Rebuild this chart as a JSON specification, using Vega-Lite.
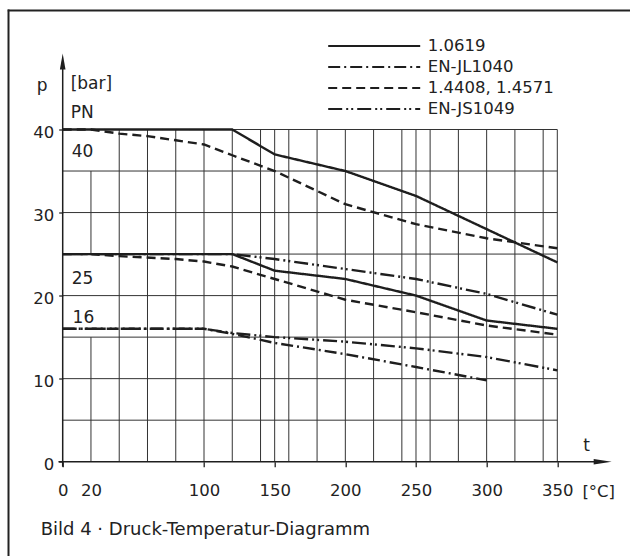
{
  "$schema": "https://vega.github.io/schema/vega-lite/v6.json",
  "width": 494.6,
  "height": 332.2,
  "autosize": {"type": "none"},
  "padding": {"left": 62.7, "top": 129.5, "right": 72.7, "bottom": 94.3},
  "background": "white",
  "config": {
    "view": {"stroke": null},
    "font": "DejaVu Sans",
    "axis": {"labelFont": "DejaVu Sans", "titleFont": "DejaVu Sans", "labelColor": "#222", "titleColor": "#222", "tickColor": "#222", "tickWidth": 1.3, "domain": false, "grid": false, "titleFontWeight": "normal"},
    "legend": {"padding": 0}
  },
  "datasets": {
    "hgrid": [{"p": 5}, {"p": 10}, {"p": 15}, {"p": 20}, {"p": 25}, {"p": 30}, {"p": 35}, {"p": 40}],
    "vgrid": [
      {"t": 20, "p": 0, "p2": 15}, {"t": 20, "p": 25, "p2": 35},
      {"t": 40, "p": 0, "p2": 40}, {"t": 60, "p": 0, "p2": 40}, {"t": 80, "p": 0, "p2": 40},
      {"t": 100, "p": 0, "p2": 40}, {"t": 120, "p": 0, "p2": 40}, {"t": 140, "p": 0, "p2": 40},
      {"t": 150, "p": 0, "p2": 40}, {"t": 160, "p": 0, "p2": 40}, {"t": 180, "p": 0, "p2": 40},
      {"t": 200, "p": 0, "p2": 40}, {"t": 220, "p": 0, "p2": 40}, {"t": 240, "p": 0, "p2": 40},
      {"t": 250, "p": 0, "p2": 40}, {"t": 260, "p": 0, "p2": 40}, {"t": 280, "p": 0, "p2": 40},
      {"t": 300, "p": 0, "p2": 40}, {"t": 320, "p": 0, "p2": 40}, {"t": 340, "p": 0, "p2": 40},
      {"t": 350, "p": 0, "p2": 40}
    ],
    "curves": [
      {"material": "1.0619", "pn": "PN40", "t": 0, "p": 40},
      {"material": "1.0619", "pn": "PN40", "t": 120, "p": 40},
      {"material": "1.0619", "pn": "PN40", "t": 150, "p": 37},
      {"material": "1.0619", "pn": "PN40", "t": 200, "p": 35},
      {"material": "1.0619", "pn": "PN40", "t": 250, "p": 32},
      {"material": "1.0619", "pn": "PN40", "t": 300, "p": 28},
      {"material": "1.0619", "pn": "PN40", "t": 350, "p": 24},
      {"material": "1.0619", "pn": "PN25", "t": 0, "p": 25},
      {"material": "1.0619", "pn": "PN25", "t": 120, "p": 25},
      {"material": "1.0619", "pn": "PN25", "t": 150, "p": 23},
      {"material": "1.0619", "pn": "PN25", "t": 200, "p": 22},
      {"material": "1.0619", "pn": "PN25", "t": 250, "p": 20},
      {"material": "1.0619", "pn": "PN25", "t": 300, "p": 17},
      {"material": "1.0619", "pn": "PN25", "t": 350, "p": 16},
      {"material": "EN-JL1040", "pn": "PN16", "t": 0, "p": 16},
      {"material": "EN-JL1040", "pn": "PN16", "t": 100, "p": 16},
      {"material": "EN-JL1040", "pn": "PN16", "t": 120, "p": 15.4},
      {"material": "EN-JL1040", "pn": "PN16", "t": 150, "p": 14.3},
      {"material": "EN-JL1040", "pn": "PN16", "t": 200, "p": 12.95},
      {"material": "EN-JL1040", "pn": "PN16", "t": 250, "p": 11.4},
      {"material": "EN-JL1040", "pn": "PN16", "t": 300, "p": 9.8},
      {"material": "1.4408, 1.4571", "pn": "PN40", "t": 0, "p": 40},
      {"material": "1.4408, 1.4571", "pn": "PN40", "t": 20, "p": 40},
      {"material": "1.4408, 1.4571", "pn": "PN40", "t": 40, "p": 39.5},
      {"material": "1.4408, 1.4571", "pn": "PN40", "t": 60, "p": 39.2},
      {"material": "1.4408, 1.4571", "pn": "PN40", "t": 80, "p": 38.7},
      {"material": "1.4408, 1.4571", "pn": "PN40", "t": 100, "p": 38.2},
      {"material": "1.4408, 1.4571", "pn": "PN40", "t": 120, "p": 36.9},
      {"material": "1.4408, 1.4571", "pn": "PN40", "t": 150, "p": 35},
      {"material": "1.4408, 1.4571", "pn": "PN40", "t": 200, "p": 31},
      {"material": "1.4408, 1.4571", "pn": "PN40", "t": 250, "p": 28.6},
      {"material": "1.4408, 1.4571", "pn": "PN40", "t": 300, "p": 26.9},
      {"material": "1.4408, 1.4571", "pn": "PN40", "t": 350, "p": 25.7},
      {"material": "1.4408, 1.4571", "pn": "PN25", "t": 0, "p": 25},
      {"material": "1.4408, 1.4571", "pn": "PN25", "t": 20, "p": 25},
      {"material": "1.4408, 1.4571", "pn": "PN25", "t": 40, "p": 24.75},
      {"material": "1.4408, 1.4571", "pn": "PN25", "t": 80, "p": 24.4},
      {"material": "1.4408, 1.4571", "pn": "PN25", "t": 100, "p": 24.1},
      {"material": "1.4408, 1.4571", "pn": "PN25", "t": 120, "p": 23.5},
      {"material": "1.4408, 1.4571", "pn": "PN25", "t": 150, "p": 22},
      {"material": "1.4408, 1.4571", "pn": "PN25", "t": 200, "p": 19.5},
      {"material": "1.4408, 1.4571", "pn": "PN25", "t": 250, "p": 18},
      {"material": "1.4408, 1.4571", "pn": "PN25", "t": 300, "p": 16.4},
      {"material": "1.4408, 1.4571", "pn": "PN25", "t": 350, "p": 15.3},
      {"material": "EN-JS1049", "pn": "PN25", "t": 0, "p": 25},
      {"material": "EN-JS1049", "pn": "PN25", "t": 120, "p": 25},
      {"material": "EN-JS1049", "pn": "PN25", "t": 150, "p": 24.4},
      {"material": "EN-JS1049", "pn": "PN25", "t": 200, "p": 23.2},
      {"material": "EN-JS1049", "pn": "PN25", "t": 250, "p": 22},
      {"material": "EN-JS1049", "pn": "PN25", "t": 300, "p": 20.2},
      {"material": "EN-JS1049", "pn": "PN25", "t": 350, "p": 17.7},
      {"material": "EN-JS1049", "pn": "PN16", "t": 0, "p": 16},
      {"material": "EN-JS1049", "pn": "PN16", "t": 100, "p": 16},
      {"material": "EN-JS1049", "pn": "PN16", "t": 120, "p": 15.5},
      {"material": "EN-JS1049", "pn": "PN16", "t": 150, "p": 15},
      {"material": "EN-JS1049", "pn": "PN16", "t": 200, "p": 14.45},
      {"material": "EN-JS1049", "pn": "PN16", "t": 250, "p": 13.65},
      {"material": "EN-JS1049", "pn": "PN16", "t": 300, "p": 12.6},
      {"material": "EN-JS1049", "pn": "PN16", "t": 350, "p": 11}
    ]
  },
  "layer": [
    {
      "data": {"name": "hgrid"},
      "mark": {"type": "rule", "color": "#333", "strokeWidth": 1},
      "encoding": {
        "x": {"datum": 0, "type": "quantitative", "scale": {"domain": [0, 350], "nice": false, "zero": false},
              "axis": {"values": [0, 20, 100, 150, 200, 250, 300, 350], "title": "t", "titleAngle": 0, "titleX": 523.3, "titleY": -11, "titleAlign": "center", "titleBaseline": "alphabetic", "titleFontSize": 17,
                       "tickSize": 5, "labelPadding": 16, "labelFontSize": 16.5, "labelFlush": false, "labelOverlap": false,
                       "tickOpacity": {"condition": {"test": "datum.value === 20", "value": 0}, "value": 1}}},
        "x2": {"datum": 350},
        "y": {"field": "p", "type": "quantitative", "scale": {"domain": [0, 40], "nice": false, "zero": false},
              "axis": {"values": [0, 10, 20, 30, 40], "title": "p", "titleAngle": 0, "titleX": -21, "titleY": -39, "titleAlign": "center", "titleBaseline": "alphabetic", "titleFontSize": 17,
                       "tickSize": 4, "labelPadding": 5, "labelFontSize": 16.5, "labelOffset": 2.5, "labelFlush": false, "labelOverlap": false}}
      }
    },
    {
      "data": {"name": "vgrid"},
      "mark": {"type": "rule", "color": "#333", "strokeWidth": 1},
      "encoding": {
        "x": {"field": "t", "type": "quantitative"},
        "y": {"field": "p", "type": "quantitative"},
        "y2": {"field": "p2"}
      }
    },
    {
      "data": {"name": "curves"},
      "mark": {"type": "line", "color": "#1e1e1e", "strokeWidth": 2.4},
      "encoding": {
        "x": {"field": "t", "type": "quantitative"},
        "y": {"field": "p", "type": "quantitative"},
        "detail": {"field": "pn"},
        "strokeDash": {
          "field": "material", "type": "nominal",
          "scale": {"domain": ["1.0619", "EN-JL1040", "1.4408, 1.4571", "EN-JS1049"], "range": [[1, 0], [12, 4, 2, 4], [9, 5], [14, 4, 2, 3, 2, 4]]},
          "legend": {"orient": "none", "legendX": 302, "legendY": -93, "title": null, "symbolType": "M-5.75,0H5.75", "symbolSize": 256, "symbolStrokeWidth": 2.2, "symbolStrokeColor": "#1e1e1e", "symbolFillColor": "transparent",
                     "labelFontSize": 16.5, "labelFont": "DejaVu Sans", "labelColor": "#222", "labelOffset": 44, "rowPadding": 3}
        }
      }
    },
    {
      "data": {"values": [{}]},
      "mark": {"type": "rule", "color": "#1e1e1e", "strokeWidth": 1.5},
      "encoding": {"x": {"datum": 0}, "y": {"datum": -0.6}, "y2": {"datum": 48.3}}
    },
    {
      "data": {"values": [{}]},
      "mark": {"type": "rule", "color": "#1e1e1e", "strokeWidth": 1.5},
      "encoding": {"x": {"datum": -3}, "x2": {"datum": 382}, "y": {"datum": 0}}
    },
    {
      "data": {"values": [{}]},
      "mark": {"type": "point", "shape": "M0,-1L0.35,1L-0.35,1Z", "size": 256, "filled": true, "color": "#1e1e1e", "opacity": 1},
      "encoding": {"x": {"datum": 0}, "y": {"datum": 48.2}}
    },
    {
      "data": {"values": [{}]},
      "mark": {"type": "point", "shape": "M1,0L-1,-0.3L-1,0.3Z", "size": 324, "filled": true, "color": "#1e1e1e", "opacity": 1},
      "encoding": {"x": {"datum": 382.1}, "y": {"datum": 0}}
    },
    {
      "data": {"values": [{}]},
      "mark": {"type": "rule", "color": "#222", "strokeWidth": 2},
      "encoding": {"x": {"datum": -38.9}, "x2": {"datum": 402.5}, "y": {"datum": 54.33}}
    },
    {
      "data": {"values": [{}]},
      "mark": {"type": "rule", "color": "#222", "strokeWidth": 2},
      "encoding": {"x": {"datum": -38.35}, "y": {"datum": 54.45}, "y2": {"datum": -11.5}}
    },
    {
      "data": {"values": [{}]},
      "mark": {"type": "text", "align": "left", "baseline": "alphabetic", "fontSize": 17, "font": "DejaVu Sans", "color": "#222"},
      "encoding": {"x": {"datum": 5.66}, "y": {"datum": 44.9}, "text": {"value": "[bar]"}}
    },
    {
      "data": {"values": [{}]},
      "mark": {"type": "text", "align": "left", "baseline": "alphabetic", "fontSize": 17, "font": "DejaVu Sans", "color": "#222"},
      "encoding": {"x": {"datum": 5.66}, "y": {"datum": 41.35}, "text": {"value": "PN"}}
    },
    {
      "data": {"values": [{}]},
      "mark": {"type": "text", "align": "left", "baseline": "alphabetic", "fontSize": 17, "font": "DejaVu Sans", "color": "#222"},
      "encoding": {"x": {"datum": 6.4}, "y": {"datum": 36.72}, "text": {"value": "40"}}
    },
    {
      "data": {"values": [{}]},
      "mark": {"type": "text", "align": "left", "baseline": "alphabetic", "fontSize": 17, "font": "DejaVu Sans", "color": "#222"},
      "encoding": {"x": {"datum": 6.4}, "y": {"datum": 21.4}, "text": {"value": "25"}}
    },
    {
      "data": {"values": [{}]},
      "mark": {"type": "text", "align": "left", "baseline": "alphabetic", "fontSize": 17, "font": "DejaVu Sans", "color": "#222"},
      "encoding": {"x": {"datum": 7.0}, "y": {"datum": 16.66}, "text": {"value": "16"}}
    },
    {
      "data": {"values": [{}]},
      "mark": {"type": "text", "align": "center", "baseline": "alphabetic", "fontSize": 16.5, "font": "DejaVu Sans", "color": "#222"},
      "encoding": {"x": {"datum": 379.3}, "y": {"datum": -4.25}, "text": {"value": "[°C]"}}
    },
    {
      "data": {"values": [{}]},
      "mark": {"type": "text", "align": "left", "baseline": "alphabetic", "fontSize": 18, "font": "DejaVu Sans", "color": "#222"},
      "encoding": {"x": {"datum": -15.57}, "y": {"datum": -8.83}, "text": {"value": "Bild 4 · Druck-Temperatur-Diagramm"}}
    }
  ]
}
